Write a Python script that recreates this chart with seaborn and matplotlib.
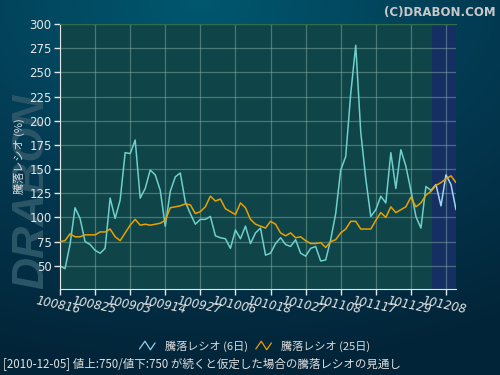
import numpy as np
import pandas as pd
import seaborn as sns
import matplotlib.pyplot as plt
from matplotlib.lines import Line2D
from matplotlib.legend_handler import HandlerLine2D

# Data
tick_labels = ['100816', '100825', '100903', '100914', '100927', '101006',
               '101018', '101027', '101108', '101117', '101129', '101208']
ratio_6 = [50, 47, 72, 110, 99, 75, 72, 66, 63, 68,
           120, 99, 118, 167, 166, 180, 120, 130, 149, 144,
           128, 91, 127, 142, 146, 116, 104, 93, 98, 98,
           101, 81, 79, 78, 68, 87, 78, 91, 73, 84,
           89, 61, 63, 73, 79, 72, 70, 77, 63, 60,
           68, 70, 55, 56, 77, 104, 149, 163, 228, 278,
           188, 140, 101, 108, 122, 115, 167, 130, 170, 153,
           128, 101, 89, 132, 128, 134, 112, 144, 134, 108]
ratio_25 = [75, 76, 83, 80, 80, 82, 82, 82, 85, 85,
            88, 80, 76, 84, 92, 98, 92, 93, 92, 93,
            94, 97, 110, 111, 112, 114, 113, 104, 106, 111,
            122, 117, 119, 109, 106, 103, 115, 110, 98, 93,
            91, 89, 96, 93, 84, 81, 84, 79, 80, 76,
            73, 73, 74, 69, 75, 77, 84, 88, 96, 96,
            88, 88, 88, 97, 105, 100, 111, 105, 108, 111,
            121, 111, 115, 123, 127, 133, 136, 140, 143, 136]
last_actual = 74

df = pd.DataFrame({'idx': range(len(ratio_6)), 'r6': ratio_6, 'r25': ratio_25})
jp = ['Noto Sans CJK JP', 'DejaVu Sans']

sns.set_style('dark')
plt.rcParams['font.family'] = ['DejaVu Sans', 'Noto Sans CJK JP']

fig = plt.figure(figsize=(5, 3.75), dpi=100)

# background gradient
bg = fig.add_axes([0, 0, 1, 1], zorder=-10)
yy, xx = np.mgrid[0:1:200j, 0:1:260j]
dist = np.sqrt(((xx - 0.4) * 1.1) ** 2 + (yy * 1.3) ** 2)
bg.imshow(dist, cmap=sns.blend_palette(['#00586f', '#033a52', '#022438'], as_cmap=True),
          aspect='auto', extent=[0, 1, 1, 0], vmin=0, vmax=1.3)
bg.set_axis_off()

# faded logo
fig.text(0.064, 0.49, 'DRABON', rotation=90, fontsize=32, fontweight='bold',
         fontstyle='italic', family=['Liberation Sans', 'DejaVu Sans'],
         color='#2b5668', ha='center', va='center', zorder=-5)

ax = fig.add_axes([0.12, 0.2293, 0.792, 0.7067])
ax.set_facecolor('#0f4548')
ax.axvspan(last_actual + 0.2, len(ratio_6) - 1, color='#152f62', zorder=0.5, lw=0)

sns.lineplot(data=df, x='idx', y='r25', ax=ax, color='#e8a100', lw=1.1, zorder=3)
sns.lineplot(data=df[df.idx <= last_actual], x='idx', y='r6', ax=ax, color='#6fcfcb', lw=1.1, zorder=2)
sns.lineplot(data=df[df.idx >= last_actual], x='idx', y='r6', ax=ax, color='#9fd6f0', lw=1.1, zorder=2)

ax.set_xlim(0, len(ratio_6) - 1)
ax.set_ylim(26, 300)
ax.set_yticks(range(50, 301, 25))
ax.set_xticks(range(0, 7 * len(tick_labels), 7))
ax.set_xticklabels(tick_labels, rotation=-12, fontstyle='italic', ha='center',
                   rotation_mode='anchor')
ax.grid(True, color='#8fb8b0', alpha=0.45, lw=0.9)
ax.tick_params(colors='#e6e6e6', labelsize=8.5, length=4, width=1, direction='out',
               left=True, bottom=True, pad=2)
for lab in ax.get_xticklabels():
    lab.set_y(-0.005)
ax.spines['right'].set_visible(False)
ax.spines['top'].set_color('#2f6e4a')
ax.spines['left'].set_color('#e6e6e6')
ax.spines['bottom'].set_color('#e6e6e6')
ax.set_xlabel('')
ax.set_ylabel('騰落レシオ (%)', family=jp, fontsize=8, color='#dddddd', labelpad=3)


class ZigZag(HandlerLine2D):
    def create_artists(self, legend, orig_handle, xdescent, ydescent, width, height, fontsize, trans):
        xs = np.array([0, 0.35, 0.7, 1.0]) * width - xdescent
        ys = np.array([0.1, 1.0, 0.0, 0.8]) * height * 1.1 - ydescent
        ln = Line2D(xs, ys, color=orig_handle.get_color(), lw=0.9, transform=trans)
        return [ln]


h6 = Line2D([], [], color='#8fd3f0')
h25 = Line2D([], [], color='#e8a100')
leg = fig.legend([h6, h25], ['騰落レシオ (6日)', '騰落レシオ (25日)'],
                 handler_map={Line2D: ZigZag()}, loc='center', bbox_to_anchor=(0.51, 0.077),
                 ncol=2, frameon=False, labelcolor='#dddddd',
                 prop={'family': jp, 'size': 8}, handlelength=1.4, columnspacing=0.7,
                 handletextpad=0.9)

fig.text(0.006, 0.027, '[2010-12-05] 値上:750/値下:750 が続くと仮定した場合の騰落レシオの見通し',
         family=jp, fontsize=8.3, color='#e0e0e0', ha='left', va='center')
fig.text(0.992, 0.985, '(C)DRABON.COM', fontsize=8.5, fontweight='bold', color='#c8c8c8',
         ha='right', va='top')

fig.savefig('out.png', dpi=100)
